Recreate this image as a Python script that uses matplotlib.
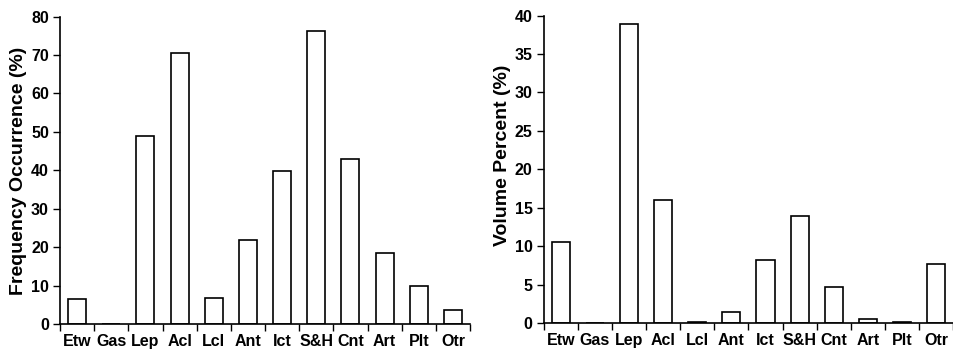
import matplotlib
matplotlib.use("Agg")
import matplotlib.pyplot as plt
import numpy as np

plt.rcParams['font.family'] = ['Liberation Sans', 'DejaVu Sans']
plt.rcParams['font.weight'] = 'bold'

# prey categories
categories = ['Etw', 'Gas', 'Lep', 'Acl', 'Lcl', 'Ant', 'Ict', 'S&H', 'Cnt', 'Art', 'Plt', 'Otr']
# frequency occurrence (%)
freq_occ = [6.5, 0.0, 48.8, 70.4, 6.7, 21.9, 39.9, 76.3, 42.9, 18.6, 9.8, 3.7]
# volume percent (%)
vol_pct = [10.5, 0.0, 38.9, 16.0, 0.2, 1.4, 8.2, 13.9, 4.7, 0.5, 0.1, 7.7]

fig = plt.figure(figsize=(9.54, 3.55), dpi=100)
ax1 = fig.add_axes([0.0629, 0.0873, 0.4298, 0.866])
ax2 = fig.add_axes([0.570, 0.090, 0.429, 0.866])


def draw(ax, vals, ymax, step, ylabel, label_xy):
    x = np.arange(len(categories))
    ax.bar(x, vals, width=0.53, color='white', edgecolor='black', linewidth=1.2)
    ax.set_xlim(-0.5, len(categories) - 0.5)
    ax.set_ylim(0, ymax)
    ax.set_yticks(np.arange(0, ymax + 1, step))
    ax.set_xticks(x)
    ax.set_xticklabels(categories, fontsize=11.5, fontweight='bold')
    ax.set_xticks(np.arange(-0.5, len(categories), 1), minor=True)
    ax.tick_params(axis='x', which='major', length=0, pad=7)
    ax.tick_params(axis='x', which='minor', length=5, width=1, direction='out')
    ax.tick_params(axis='y', length=5, width=1, labelsize=11.5, pad=3)
    for lab in ax.get_yticklabels():
        lab.set_fontweight('bold')
    ax.spines['top'].set_visible(False)
    ax.spines['right'].set_visible(False)
    ax.spines['left'].set_linewidth(1.2)
    ax.spines['bottom'].set_linewidth(1.2)
    ax.set_ylabel(ylabel, fontsize=14, fontweight='bold')
    ax.yaxis.set_label_coords(*label_xy)


draw(ax1, freq_occ, 80, 10, 'Frequency Occurrence (%)', (-0.081, 0.497))
draw(ax2, vol_pct, 40, 5, 'Volume Percent (%)', (-0.08, 0.547))

fig.savefig('out.png', dpi=100)
